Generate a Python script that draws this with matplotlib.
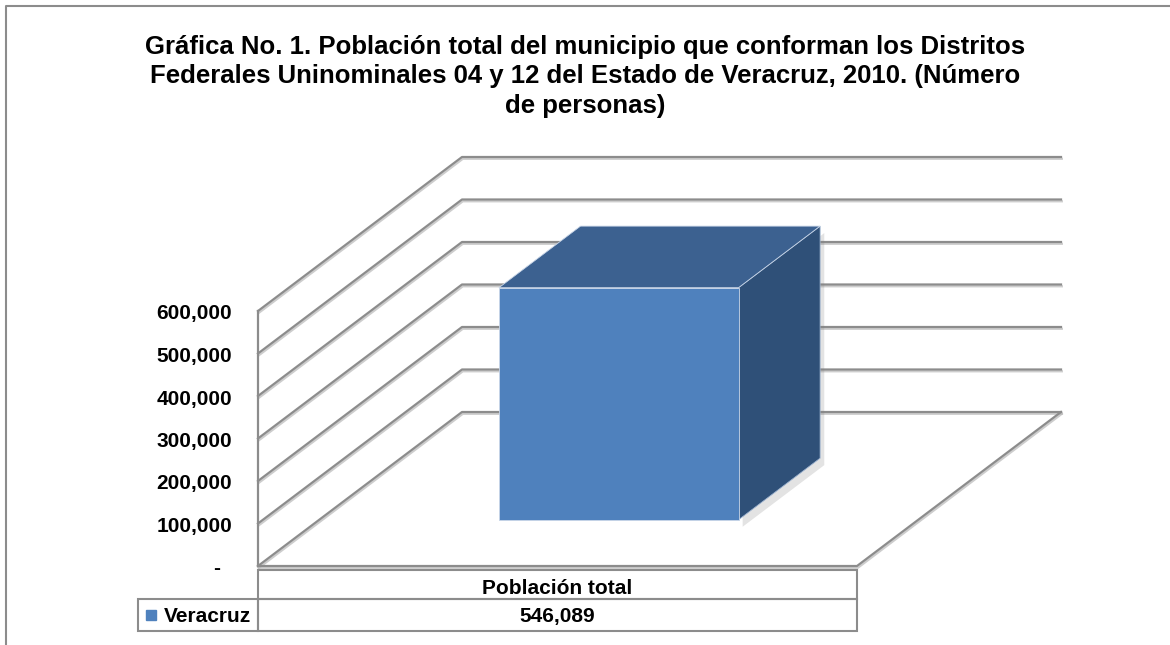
import matplotlib
matplotlib.use('Agg')
import matplotlib.pyplot as plt
import matplotlib.patheffects as pe
from matplotlib.patches import Polygon, Rectangle

plt.rcParams['font.family'] = ['Liberation Sans', 'DejaVu Sans']

# datos
titulo = ("Gráfica No. 1. Población total del municipio que conforman los Distritos\n"
          "Federales Uninominales 04 y 12 del Estado de Veracruz, 2010. (Número\n"
          "de personas)")
categorias = ['Población total']
serie = 'Veracruz'
valores = [546089]
ticks = [0, 100000, 200000, 300000, 400000, 500000, 600000]

# disposicion en pixeles
W, H = 1170, 645
X0, X1 = 258, 857          # borde frontal del piso
Y0 = 566                   # valor 0 en el plano frontal (px desde arriba)
PX_POR_UNIDAD = 42.5 / 100000
PROF_X, PROF_Y = 204, 154  # desplazamiento de profundidad en px
TAB_IZQ, TAB_ARR, TAB_MED, TAB_ABA = 138, 569.5, 598.5, 631

gris = '#8c8c8c'
azul = '#4F81BD'
azul_arriba = '#3C6190'
azul_lado = '#2F5078'

n = len(categorias)
ancho_cat = (X1 - X0) / n

fig = plt.figure(figsize=(W / 100, H / 100), dpi=100)
ax = fig.add_axes([0, 0, 1, 1])
ax.set_xlim(-X0 / ancho_cat, (W - X0) / ancho_cat)
ax.set_ylim(-(H - Y0) / PX_POR_UNIDAD, Y0 / PX_POR_UNIDAD)
ax.axis('off')

dx = PROF_X / ancho_cat
dz = PROF_Y / PX_POR_UNIDAD


def proy(x, z, v):
    return x + z * dx, v + z * dz


def fila(py):
    return (Y0 - py) / PX_POR_UNIDAD


# paredes y lineas de division
sombra = [pe.SimpleLineShadow(offset=(0.6, -1.3), shadow_color='#b8b8b8', alpha=0.7), pe.Normal()]
for t in ticks:
    pts = [proy(0, 0, t), proy(0, 1, t), proy(n, 1, t)]
    ax.plot(*zip(*pts), color=gris, lw=1.6, path_effects=sombra, zorder=1)
piso = [proy(0, 0, 0), proy(n, 0, 0), proy(n, 1, 0)]
ax.plot(*zip(*piso), color=gris, lw=1.6, path_effects=sombra, zorder=1)
eje = [proy(0, 0, 0), proy(0, 0, ticks[-1])]
ax.plot(*zip(*eje), color=gris, lw=1.6, zorder=1)

# etiquetas del eje
for t in ticks:
    x, y = proy(0, 0, t)
    if t:
        ax.annotate(f'{t:,}', (x, y), xytext=(-26, -3), textcoords='offset pixels',
                    ha='right', va='center', fontsize=15, fontweight='bold')
    else:
        ax.annotate('-', (x, y), xytext=(-41, -2), textcoords='offset pixels',
                    ha='center', va='center', fontsize=15, fontweight='bold')

# barras 3D
ancho, prof0, prof1 = 0.4, 0.3, 0.7
sombra_barra = [pe.SimplePatchShadow(offset=(3, -5), shadow_rgbFace='#808080', alpha=0.22), pe.Normal()]
for i, v in enumerate(valores):
    xa, xb = i + (1 - ancho) / 2, i + (1 + ancho) / 2
    lado = [proy(xb, prof0, 0), proy(xb, prof1, 0), proy(xb, prof1, v), proy(xb, prof0, v)]
    frente = [proy(xa, prof0, 0), proy(xb, prof0, 0), proy(xb, prof0, v), proy(xa, prof0, v)]
    arriba = [proy(xa, prof0, v), proy(xb, prof0, v), proy(xb, prof1, v), proy(xa, prof1, v)]
    ax.add_patch(Polygon(lado, closed=True, facecolor=azul_lado, edgecolor='#9db3d0',
                         lw=0.6, path_effects=sombra_barra, zorder=3))
    ax.add_patch(Polygon(frente, closed=True, facecolor=azul, edgecolor='#c9d6e8',
                         lw=0.6, zorder=4))
    ax.add_patch(Polygon(arriba, closed=True, facecolor=azul_arriba, edgecolor='#c9d6e8',
                         lw=0.6, zorder=4))

# tabla de datos
y_arr, y_med, y_aba = fila(TAB_ARR), fila(TAB_MED), fila(TAB_ABA)
celda = dict(fill=False, edgecolor=gris, lw=1.5, zorder=2)
texto = dict(ha='center', va='baseline', fontsize=15, fontweight='bold')
for j, cat in enumerate(categorias):
    ax.add_patch(Rectangle((j, y_med), 1, y_arr - y_med, **celda))
    ax.add_patch(Rectangle((j, y_aba), 1, y_med - y_aba, **celda))
    ax.text(j + 0.5, fila(594), cat, **texto)
    ax.text(j + 0.5, fila(622), f'{valores[j]:,}', **texto)
x_etq = (TAB_IZQ - X0) / ancho_cat
ax.add_patch(Rectangle((x_etq, y_aba), -x_etq, y_med - y_aba, **celda))
ax.text(-7 / ancho_cat, fila(622), serie, ha='right', va='baseline',
        fontsize=15, fontweight='bold')
# clave de la leyenda
ax.plot([x_etq + 13 / ancho_cat], [fila(614.5)], marker='s', markersize=6.5,
        color=azul, zorder=5)

# marco
ax.plot([6 / W, 6 / W, 1], [0, 1 - 6 / H, 1 - 6 / H], transform=ax.transAxes,
        color=gris, lw=1.5, clip_on=False)

fig.text(0.5, 1 - 35 / H, titulo, ha='center', va='top', fontsize=18.5,
         fontweight='bold', linespacing=1.28)

fig.savefig('out.png', dpi=100)
